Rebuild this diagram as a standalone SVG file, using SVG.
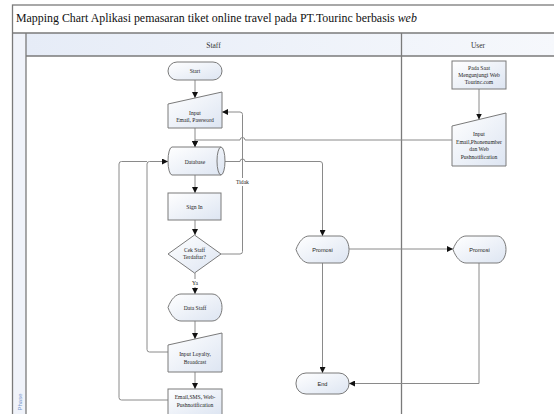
<svg xmlns="http://www.w3.org/2000/svg" width="554" height="414" viewBox="0 0 554 414">
  <defs>
    <linearGradient id="nodeFill" x1="0" y1="0" x2="1" y2="1">
      <stop offset="0" stop-color="#ffffff"/>
      <stop offset="1" stop-color="#dde5f2"/>
    </linearGradient>
    <linearGradient id="headFill" x1="0" y1="0" x2="1" y2="0">
      <stop offset="0" stop-color="#e6ecf7"/>
      <stop offset="1" stop-color="#f6f8fc"/>
    </linearGradient>
    <marker id="arrow" viewBox="0 0 6 6" refX="6" refY="3" markerWidth="6" markerHeight="6" markerUnits="userSpaceOnUse" orient="auto">
      <path d="M0,0 L6,3 L0,6 Z" fill="#111"/>
    </marker>
    <style>
      .frame { fill: none; stroke: #7a7a7a; stroke-width: 1.3; }
      .node { fill: url(#nodeFill); stroke: #7a7a7a; stroke-width: 1; }
      .lbl { font-family: "Liberation Serif", "Times New Roman", serif; font-size: 5.6px; fill: #222; text-anchor: middle; }
      .lbls { font-family: "Liberation Sans", Arial, sans-serif; font-size: 5.6px; fill: #222; text-anchor: middle; }
      .conn { fill: none; stroke: #8a8a8a; stroke-width: 1; }
      .arr { marker-end: url(#arrow); }
      .head { font-family: "Liberation Serif", "Times New Roman", serif; font-size: 7.5px; fill: #333; text-anchor: middle; }
      .title { font-family: "Liberation Serif", "Times New Roman", serif; font-size: 11.9px; fill: #111; }
    </style>
  </defs>

  <rect width="554" height="414" fill="#ffffff"/>

  <!-- pool frame, title row and lane headers -->
  <g id="pool">
    <rect x="26" y="33" width="530" height="23" fill="url(#headFill)"/>
    <rect x="12.5" y="33" width="13.5" height="385" fill="#f0f3fa"/>
    <rect x="12.5" y="5" width="545" height="415" class="frame"/>
    <line x1="12.5" y1="33" x2="556" y2="33" class="frame"/>
    <line x1="26" y1="56" x2="556" y2="56" class="frame"/>
    <line x1="26" y1="33" x2="26" y2="416" class="frame"/>
    <line x1="401.5" y1="33" x2="401.5" y2="416" class="frame"/>
    <text x="16" y="22" class="title">Mapping Chart Aplikasi pemasaran tiket online travel pada PT.Tourinc berbasis <tspan font-style="italic">web</tspan></text>
    <text x="213.5" y="47.5" class="head">Staff</text>
    <text x="478" y="47.5" class="head">User</text>
    <text transform="translate(21.5,402) rotate(-90)" font-family="Liberation Sans, Arial, sans-serif" font-size="6px" fill="#7b9bcf" text-anchor="middle">Phase</text>
  </g>

  <!-- connectors -->
  <g id="connectors">
    <path class="conn arr" d="M195,80 L195,98"/>
    <path class="conn arr" d="M195,128 L195,147"/>
    <path class="conn arr" d="M452,140 L245,140 A2.5,2.5 0 0 0 240,140 L195,140 L195,147"/>
    <path class="conn arr" d="M195,175 L195,193"/>
    <path class="conn arr" d="M195,220 L195,235"/>
    <path class="conn arr" d="M195,273 L195,294"/>
    <path class="conn arr" d="M221,254 L240,254 Q242.5,254 242.5,251.5 L242.5,114.5 Q242.5,112 240,112 L222,112"/>
    <path class="conn arr" d="M195,321 L195,339"/>
    <path class="conn arr" d="M195,372 L195,389"/>
    <path class="conn arr" d="M168,352 L149.5,352 Q147,352 147,349.5 L147,164 Q147,161.5 149.5,161.5 L168,161.5"/>
    <path class="conn" d="M168,400 L121.5,400 Q119,400 119,397.5 L119,164 Q119,161.5 121.5,161.5 L147,161.5"/>
    <path class="conn arr" d="M225,161.5 L240,161.5 A2.5,2.5 0 0 1 245,161.5 L320,161.5 Q322.5,161.5 322.5,164 L322.5,236"/>
    <path class="conn arr" d="M479,89 L479,119.5"/>
    <path class="conn arr" d="M349,249 L453,249"/>
    <path class="conn arr" d="M322.5,263 L322.5,373"/>
    <path class="conn arr" d="M479,263 L479,383.5 L349,383.5"/>
    <rect x="234" y="178" width="17" height="8" fill="#ffffff"/>
    <text x="242.5" y="184" class="lbl">Tidak</text>
    <rect x="190" y="279" width="10" height="8" fill="#ffffff"/>
    <text x="195" y="285" class="lbl">Ya</text>
  </g>

  <!-- staff lane -->
  <g id="start">
    <rect x="168" y="62" width="54" height="18" rx="9" class="node"/>
    <text x="195" y="73" class="lbl">Start</text>
  </g>
  <g id="input-login">
    <path d="M168,104 L222,92 L222,128 L168,128 Z" class="node"/>
    <text x="195" y="115" class="lbl">Input</text>
    <text x="195" y="122" class="lbl">Email, Password</text>
  </g>
  <g id="database">
    <path d="M172,147 L221,147 A4,14 0 0 1 221,175 L172,175 A4,14 0 0 1 172,147 Z" class="node"/>
    <path d="M221,147 A4,14 0 0 0 221,175" fill="none" stroke="#7a7a7a" stroke-width="1"/>
    <text x="195" y="163.5" class="lbl">Database</text>
  </g>
  <g id="sign-in">
    <rect x="168" y="193" width="53" height="27" class="node"/>
    <text x="194.5" y="208.5" class="lbl">Sign In</text>
  </g>
  <g id="cek-staff">
    <path d="M194.5,235 L221,254 L194.5,273 L168,254 Z" class="node"/>
    <text x="194.5" y="252" class="lbl">Cek Staff</text>
    <text x="194.5" y="259" class="lbl">Terdaftar?</text>
  </g>
  <g id="data-staff">
    <path d="M168,307.5 C171,299 176,294 181,294 L212,294 C218,294 222,300 222,307.5 C222,315 218,321 212,321 L181,321 C176,321 171,316 168,307.5 Z" class="node"/>
    <text x="195" y="309.5" class="lbl">Data Staff</text>
  </g>
  <g id="input-loyalty">
    <path d="M168,345 L222,333 L222,372 L168,372 Z" class="node"/>
    <text x="195" y="356" class="lbl">Input Loyalty,</text>
    <text x="195" y="363.5" class="lbl">Broadcast</text>
  </g>
  <g id="notifikasi">
    <rect x="168" y="389" width="54" height="26" class="node"/>
    <text x="195" y="399" class="lbl">Email,SMS, Web-</text>
    <text x="195" y="406.5" class="lbl">Pushnotification</text>
  </g>
  <g id="promosi-staff">
    <path d="M296,249.5 C299,241 304,236 309,236 L340,236 C345,236 349,242 349,249.5 C349,257 345,263 340,263 L309,263 C304,263 299,258 296,249.5 Z" class="node"/>
    <text x="322.5" y="251.5" class="lbls">Promosi</text>
  </g>
  <g id="end">
    <rect x="296" y="373" width="53" height="21" rx="10" class="node"/>
    <text x="322.5" y="385.5" class="lbls">End</text>
  </g>

  <!-- user lane -->
  <g id="kunjungi-web">
    <rect x="452" y="61" width="54" height="28" class="node"/>
    <text x="479" y="69.5" class="lbl">Pada Saat</text>
    <text x="479" y="76.5" class="lbl">Mengunjungi Web</text>
    <text x="479" y="83.5" class="lbl">Tourinc.com</text>
  </g>
  <g id="input-user">
    <path d="M452,126 L506,113 L506,166 L452,166 Z" class="node"/>
    <text x="479" y="136" class="lbl">Input</text>
    <text x="479" y="143.5" class="lbl">Email,Phonenumber</text>
    <text x="479" y="151" class="lbl">dan Web</text>
    <text x="479" y="158.5" class="lbl">Pushnotification</text>
  </g>
  <g id="promosi-user">
    <path d="M453,249.5 C456,241 461,236 466,236 L497,236 C502,236 506,242 506,249.5 C506,257 502,263 497,263 L466,263 C461,263 456,258 453,249.5 Z" class="node"/>
    <text x="479.5" y="251.5" class="lbls">Promosi</text>
  </g>
</svg>
